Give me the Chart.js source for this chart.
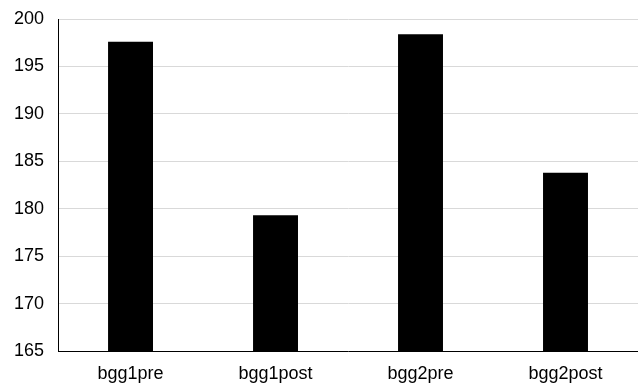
<!DOCTYPE html>
<html>
<head>
<meta charset="utf-8">
<script src="https://cdn.jsdelivr.net/npm/chart.js@4"></script>
<style>
  html, body { margin: 0; padding: 0; background: #fff; }
  #wrap { width: 638px; height: 387px; }
</style>
</head>
<body>
<div id="wrap"><canvas id="barChart" width="638" height="387"></canvas></div>
<script>
const categories = ['bgg1pre', 'bgg1post', 'bgg2pre', 'bgg2post'];
const values = [197.6, 179.3, 198.4, 183.8];
const yMin = 165;
const yMax = 200;
const yStep = 5;

// drop the space chart.js reserves for the half-height of the end labels
function noEdgePadding(scale) {
    scale.paddingTop = 0;
    scale.paddingBottom = 0;
}

const ctx = document.getElementById('barChart').getContext('2d');
new Chart(ctx, {
    type: 'bar',
    data: {
        labels: categories,
        datasets: [
            {
                data: values,
                backgroundColor: '#000000',
                borderWidth: 0,
                barPercentage: 0.62,
                categoryPercentage: 0.5,
            },
        ],
    },
    options: {
        responsive: false,
        animation: false,
        layout: { padding: { top: 19, right: -5, bottom: 2, left: 0 } },
        plugins: {
            legend: { display: false },
            tooltip: { enabled: false },
        },
        scales: {
            x: {
                afterFit: (scale) => {
                    scale.height = 34;
                    scale.paddingBottom = 0;
                    scale.paddingLeft = 0;
                    scale.paddingRight = 0;
                },
                grid: { display: false, drawTicks: false },
                border: { color: '#000000', width: 1 },
                ticks: {
                    color: '#000000',
                    padding: 12,
                    font: { family: 'Liberation Sans', size: 18 },
                },
            },
            y: {
                min: yMin,
                max: yMax,
                afterFit: noEdgePadding,
                grid: { color: '#d9d9d9', drawTicks: false },
                border: { color: '#000000', width: 1 },
                ticks: {
                    stepSize: yStep,
                    color: '#000000',
                    padding: 14,
                    font: { family: 'Liberation Sans', size: 18 },
                },
            },
        },
    },
});
</script>
</body>
</html>
